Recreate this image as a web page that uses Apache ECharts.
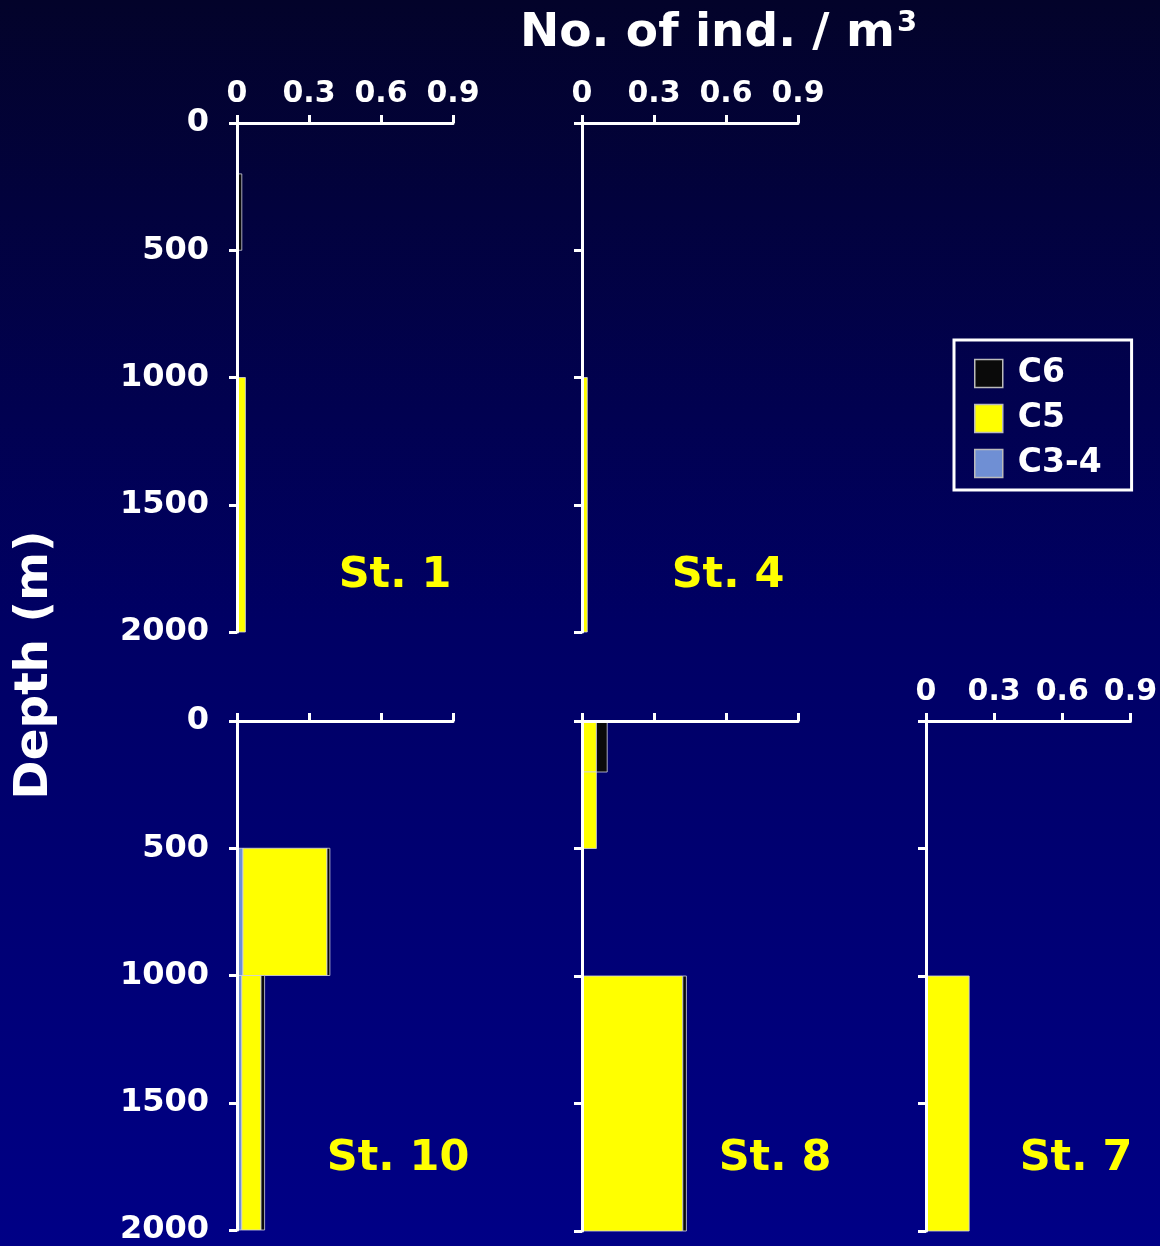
<!DOCTYPE html>
<html><head><meta charset="utf-8">
<script src="https://cdn.jsdelivr.net/npm/echarts@6/dist/echarts.min.js"></script>
<style>html,body{margin:0;padding:0;background:#000050;}#c{width:1160px;height:1246px;}</style>
</head><body><div id="c"></div>
<script>
// Depth intervals (m)
const depthTop = [0, 200, 500, 1000];
const depthBottom = [200, 500, 1000, 2000];
const stations = ['St. 1', 'St. 4', 'St. 10', 'St. 8', 'St. 7'];
const stages = ['C3-4', 'C5', 'C6'];
const xTicks = [0, 0.3, 0.6, 0.9];
const depthTicks = [0, 500, 1000, 1500, 2000];
// values per station, per depth interval (No. of ind. / m3)
const c34 = [
  [0, 0, 0, 0],
  [0, 0, 0, 0],
  [0, 0, 0.025, 0.02],
  [0, 0, 0, 0],
  [0, 0, 0, 0]
];
const c5 = [
  [0, 0, 0, 0.035],
  [0, 0, 0, 0.022],
  [0, 0, 0.35, 0.08],
  [0.06, 0.06, 0, 0.42],
  [0, 0, 0, 0.19]
];
const c6 = [
  [0, 0.02, 0, 0],
  [0, 0, 0, 0],
  [0, 0, 0.012, 0.015],
  [0.045, 0, 0, 0.015],
  [0, 0, 0, 0]
];
const stageValues = [c34, c5, c6];
const stageColors = ['#6f8fd4', '#ffff00', '#0a0a0a'];

const grids = [
  {left: 237, top: 123, width: 216, height: 509},
  {left: 582, top: 123, width: 216, height: 509},
  {left: 237, top: 721, width: 216, height: 510},
  {left: 582, top: 721, width: 216, height: 510},
  {left: 926, top: 721, width: 217, height: 510}
];
const showXLabels = [true, true, false, false, true];
const stationLabelPos = [[395, 576], [728, 576], [398, 1159], [775, 1159], [1076, 1159]];

const font = 'DejaVu Sans';
const xAxes = [], yAxes = [], series = [];
grids.forEach((g, i) => {
  xAxes.push({
    gridIndex: i, type: 'value', position: 'top', min: 0, max: 0.9, interval: 0.3,
    z: 5,
    axisLine: {show: true, lineStyle: {color: '#fff', width: 3}},
    axisTick: {show: true, inside: false, length: 8, lineStyle: {color: '#fff', width: 3}},
    axisLabel: {show: showXLabels[i], color: '#fff', fontFamily: font, fontWeight: 'bold', fontSize: 30, margin: 14,
      formatter: v => xTicks.includes(+v.toFixed(1)) ? String(+v.toFixed(1)) : ''},
    splitLine: {show: false}
  });
  yAxes.push({
    gridIndex: i, type: 'value', inverse: true, min: 0, max: 2000, interval: 500,
    z: 5,
    axisLine: {show: true, lineStyle: {color: '#fff', width: 3}},
    axisTick: {show: true, inside: false, length: 8, lineStyle: {color: '#fff', width: 3}},
    axisLabel: {show: i === 0 || i === 2, color: '#fff', fontFamily: font, fontWeight: 'bold', fontSize: 32, margin: 28,
      formatter: v => depthTicks.includes(v) ? String(v) : ''},
    splitLine: {show: false}
  });
  // build stacked segments
  const cum = depthTop.map(() => 0);
  stages.forEach((s, k) => {
    const data = [];
    depthTop.forEach((d, j) => {
      const v = stageValues[k][i][j];
      if (v > 0) {
        data.push([cum[j], cum[j] + v, depthTop[j], depthBottom[j]]);
        cum[j] += v;
      }
    });
    series.push({
      type: 'custom', name: s, xAxisIndex: i, yAxisIndex: i, z: 2,
      itemStyle: {color: stageColors[k]},
      renderItem: (params, api) => {
        const p1 = api.coord([api.value(0), api.value(2)]);
        const p2 = api.coord([api.value(1), api.value(3)]);
        return {type: 'rect', shape: {x: p1[0], y: p1[1], width: p2[0] - p1[0], height: p2[1] - p1[1]},
          style: {fill: stageColors[k], stroke: 'rgba(210,210,225,0.8)', lineWidth: 1}};
      },
      encode: {x: [0, 1], y: [2, 3]},
      data: data
    });
  });
});

const graphics = stations.map((s, i) => ({
  type: 'text', x: stationLabelPos[i][0], y: stationLabelPos[i][1],
  style: {text: s, fill: '#ffff00', font: 'bold 43px "' + font + '"', textAlign: 'center', textVerticalAlign: 'middle'}
}));
graphics.push({
  type: 'text', x: 35, y: 665, rotation: Math.PI / 2,
  style: {text: 'Depth (m)', fill: '#fff', font: 'bold 47px "' + font + '"', textAlign: 'center', textVerticalAlign: 'middle'}
});

const chart = echarts.init(document.getElementById('c'), null, {renderer: 'canvas'});
chart.setOption({
  animation: false,
  backgroundColor: {type: 'linear', x: 0, y: 0, x2: 0, y2: 1,
    colorStops: [{offset: 0, color: '#03032a'}, {offset: 0.5, color: '#000064'}, {offset: 1, color: '#000086'}]},
  title: {
    text: '{a|No. of ind. / m}{b|3}', left: 515, top: 4,
    textStyle: {rich: {
      a: {color: '#fff', fontFamily: font, fontWeight: 'bold', fontSize: 47},
      b: {color: '#fff', fontFamily: font, fontWeight: 'bold', fontSize: 29, verticalAlign: 'top', padding: [0, 0, 20, 2]}
    }}
  },
  legend: {
    orient: 'vertical', left: 954, top: 340, width: 180,
    data: ['C6', 'C5', 'C3-4'],
    icon: 'rect', itemWidth: 28, itemHeight: 28, itemGap: 12,
    padding: [17, 30, 10, 20],
    borderColor: '#fff', borderWidth: 3,
    itemStyle: {borderColor: '#bbb', borderWidth: 1.5},
    textStyle: {color: '#fff', fontFamily: font, fontWeight: 'bold', fontSize: 33, padding: [0, 0, 0, 10]},
    selectedMode: false
  },
  grid: grids,
  xAxis: xAxes,
  yAxis: yAxes,
  series: series,
  graphic: graphics
});
</script></body></html>
